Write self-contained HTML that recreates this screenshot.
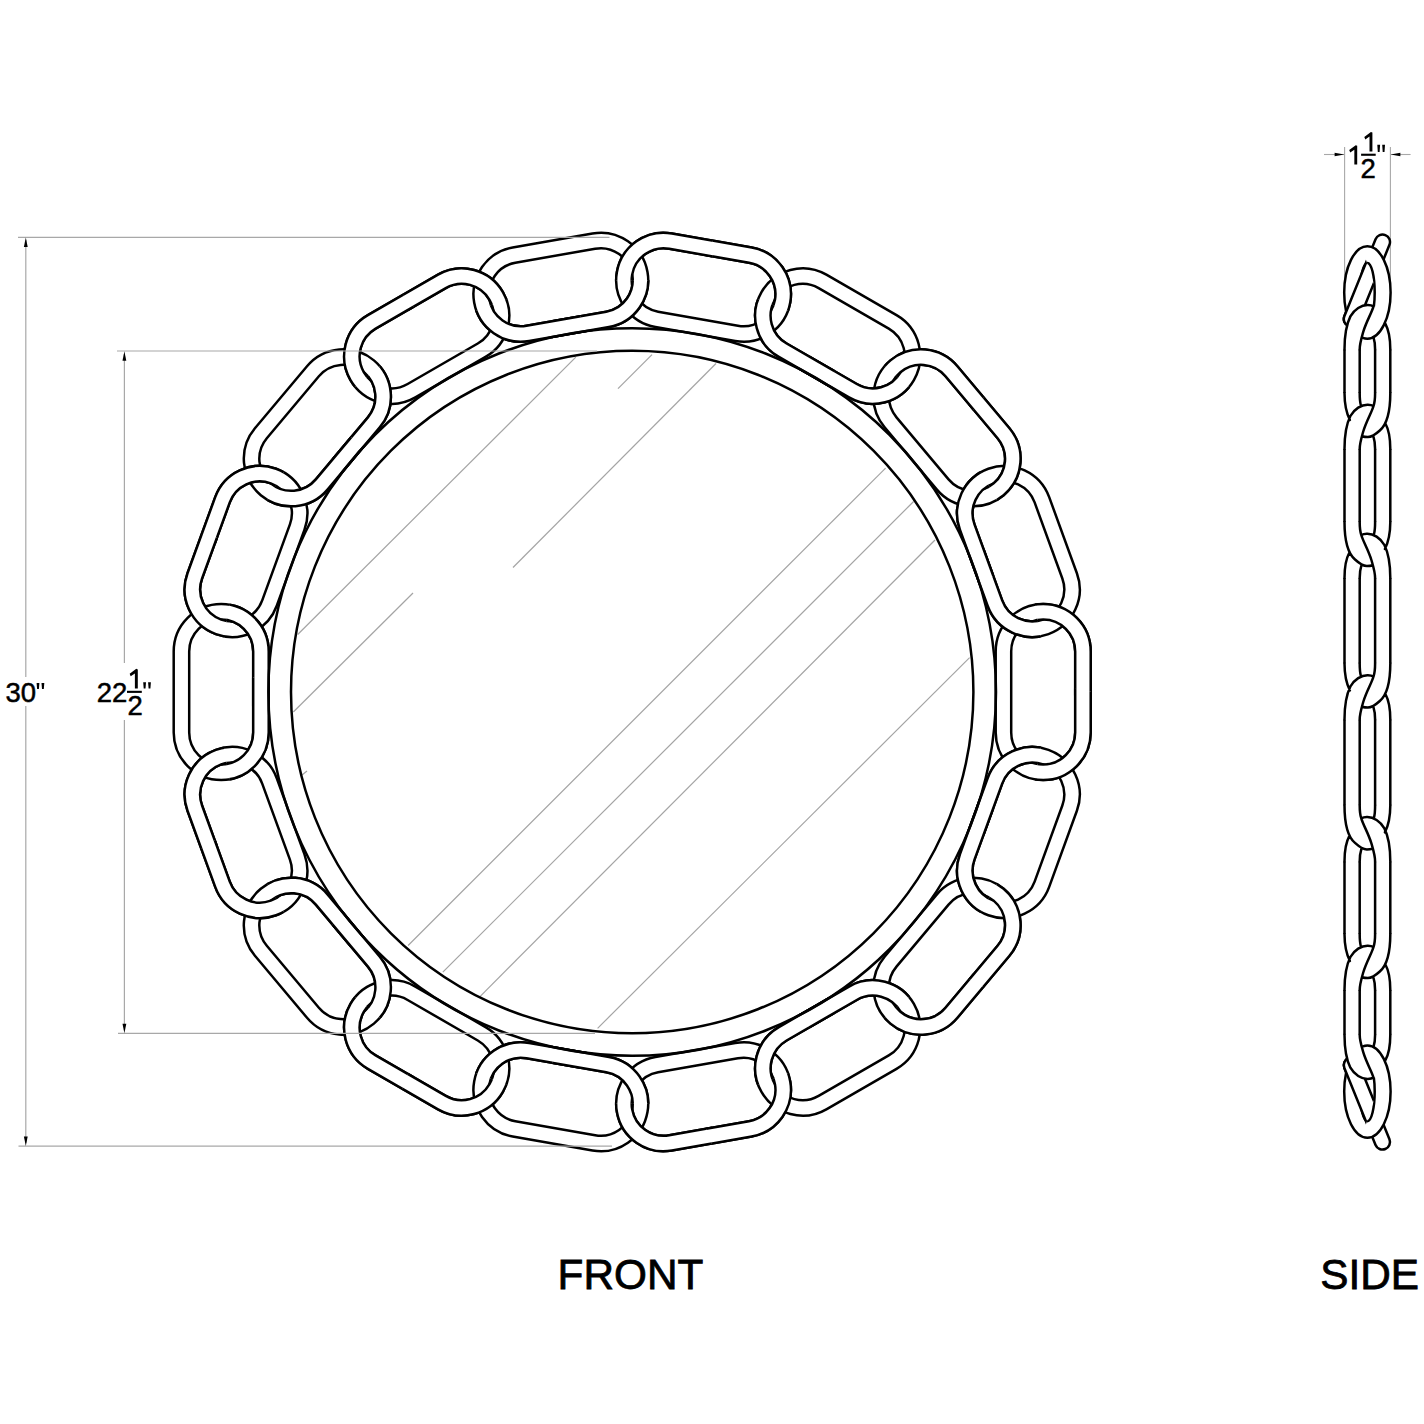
<!DOCTYPE html><html><head><meta charset="utf-8"><style>html,body{margin:0;padding:0;background:#fff;}svg{display:block;}text{font-family:"Liberation Sans",sans-serif;fill:#000;}</style></head><body>
<svg width="1424" height="1424" viewBox="0 0 1424 1424">
<rect width="1424" height="1424" fill="#fff"/>
<defs>
<path id="tube" d="M-40.50,-47.50H40.50A47.50,47.50 0 0 1 40.50,47.50H-40.50A47.50,47.50 0 0 1 -40.50,-47.50ZM-40.50,-32.00H40.50A32.00,32.00 0 0 1 40.50,32.00H-40.50A32.00,32.00 0 0 1 -40.50,-32.00Z" fill="#fff" fill-rule="evenodd" stroke="#000" stroke-width="2.5"/>
<clipPath id="o0"><rect x="0" y="-80" width="90" height="160" transform="translate(1037.74,620.49) rotate(-10)"/></clipPath>
<clipPath id="i0"><rect x="-90" y="-80" width="90" height="160" transform="translate(1037.74,620.49) rotate(-10)"/></clipPath>
<clipPath id="o1"><rect x="0" y="-80" width="90" height="160" transform="translate(988.83,486.10) rotate(-30)"/></clipPath>
<clipPath id="i1"><rect x="-90" y="-80" width="90" height="160" transform="translate(988.83,486.10) rotate(-30)"/></clipPath>
<clipPath id="o2"><rect x="0" y="-80" width="90" height="160" transform="translate(896.90,376.54) rotate(-50)"/></clipPath>
<clipPath id="i2"><rect x="-90" y="-80" width="90" height="160" transform="translate(896.90,376.54) rotate(-50)"/></clipPath>
<clipPath id="o3"><rect x="0" y="-80" width="90" height="160" transform="translate(773.04,305.03) rotate(-70)"/></clipPath>
<clipPath id="i3"><rect x="-90" y="-80" width="90" height="160" transform="translate(773.04,305.03) rotate(-70)"/></clipPath>
<clipPath id="o4"><rect x="0" y="-80" width="90" height="160" transform="translate(632.20,280.20) rotate(-90)"/></clipPath>
<clipPath id="i4"><rect x="-90" y="-80" width="90" height="160" transform="translate(632.20,280.20) rotate(-90)"/></clipPath>
<clipPath id="o5"><rect x="0" y="-80" width="90" height="160" transform="translate(491.36,305.03) rotate(-110)"/></clipPath>
<clipPath id="i5"><rect x="-90" y="-80" width="90" height="160" transform="translate(491.36,305.03) rotate(-110)"/></clipPath>
<clipPath id="o6"><rect x="0" y="-80" width="90" height="160" transform="translate(367.50,376.54) rotate(-130)"/></clipPath>
<clipPath id="i6"><rect x="-90" y="-80" width="90" height="160" transform="translate(367.50,376.54) rotate(-130)"/></clipPath>
<clipPath id="o7"><rect x="0" y="-80" width="90" height="160" transform="translate(275.57,486.10) rotate(-150)"/></clipPath>
<clipPath id="i7"><rect x="-90" y="-80" width="90" height="160" transform="translate(275.57,486.10) rotate(-150)"/></clipPath>
<clipPath id="o8"><rect x="0" y="-80" width="90" height="160" transform="translate(226.66,620.49) rotate(-170)"/></clipPath>
<clipPath id="i8"><rect x="-90" y="-80" width="90" height="160" transform="translate(226.66,620.49) rotate(-170)"/></clipPath>
<clipPath id="o9"><rect x="0" y="-80" width="90" height="160" transform="translate(226.66,763.51) rotate(-190)"/></clipPath>
<clipPath id="i9"><rect x="-90" y="-80" width="90" height="160" transform="translate(226.66,763.51) rotate(-190)"/></clipPath>
<clipPath id="o10"><rect x="0" y="-80" width="90" height="160" transform="translate(275.57,897.90) rotate(-210)"/></clipPath>
<clipPath id="i10"><rect x="-90" y="-80" width="90" height="160" transform="translate(275.57,897.90) rotate(-210)"/></clipPath>
<clipPath id="o11"><rect x="0" y="-80" width="90" height="160" transform="translate(367.50,1007.46) rotate(-230)"/></clipPath>
<clipPath id="i11"><rect x="-90" y="-80" width="90" height="160" transform="translate(367.50,1007.46) rotate(-230)"/></clipPath>
<clipPath id="o12"><rect x="0" y="-80" width="90" height="160" transform="translate(491.36,1078.97) rotate(-250)"/></clipPath>
<clipPath id="i12"><rect x="-90" y="-80" width="90" height="160" transform="translate(491.36,1078.97) rotate(-250)"/></clipPath>
<clipPath id="o13"><rect x="0" y="-80" width="90" height="160" transform="translate(632.20,1103.80) rotate(-270)"/></clipPath>
<clipPath id="i13"><rect x="-90" y="-80" width="90" height="160" transform="translate(632.20,1103.80) rotate(-270)"/></clipPath>
<clipPath id="o14"><rect x="0" y="-80" width="90" height="160" transform="translate(773.04,1078.97) rotate(-290)"/></clipPath>
<clipPath id="i14"><rect x="-90" y="-80" width="90" height="160" transform="translate(773.04,1078.97) rotate(-290)"/></clipPath>
<clipPath id="o15"><rect x="0" y="-80" width="90" height="160" transform="translate(896.90,1007.46) rotate(-310)"/></clipPath>
<clipPath id="i15"><rect x="-90" y="-80" width="90" height="160" transform="translate(896.90,1007.46) rotate(-310)"/></clipPath>
<clipPath id="o16"><rect x="0" y="-80" width="90" height="160" transform="translate(988.83,897.90) rotate(-330)"/></clipPath>
<clipPath id="i16"><rect x="-90" y="-80" width="90" height="160" transform="translate(988.83,897.90) rotate(-330)"/></clipPath>
<clipPath id="o17"><rect x="0" y="-80" width="90" height="160" transform="translate(1037.74,763.51) rotate(-350)"/></clipPath>
<clipPath id="i17"><rect x="-90" y="-80" width="90" height="160" transform="translate(1037.74,763.51) rotate(-350)"/></clipPath>
</defs>
<line x1="297.7" y1="634.5" x2="575.8" y2="357.2" stroke="#a4a4a4" stroke-width="1.2"/>
<line x1="293.3" y1="712" x2="413" y2="593" stroke="#a4a4a4" stroke-width="1.2"/>
<line x1="513" y1="567.5" x2="716" y2="363.5" stroke="#a4a4a4" stroke-width="1.2"/>
<line x1="618" y1="388.6" x2="652" y2="354.7" stroke="#a4a4a4" stroke-width="1.2"/>
<line x1="408.1" y1="945.5" x2="885.6" y2="468.1" stroke="#a4a4a4" stroke-width="1.2"/>
<line x1="442.8" y1="972.2" x2="913.6" y2="501.5" stroke="#a4a4a4" stroke-width="1.2"/>
<line x1="480.2" y1="996.3" x2="935" y2="540" stroke="#a4a4a4" stroke-width="1.2"/>
<line x1="597.6" y1="1028.3" x2="969.6" y2="657.6" stroke="#a4a4a4" stroke-width="1.2"/>
<line x1="302" y1="775" x2="307" y2="771" stroke="#a4a4a4" stroke-width="1.2"/>
<use href="#tube" transform="translate(1043.20,692.00) rotate(90)"/>
<use href="#tube" transform="translate(1018.41,551.43) rotate(70)"/>
<use href="#tube" transform="translate(947.04,427.81) rotate(50)"/>
<use href="#tube" transform="translate(837.70,336.06) rotate(30)"/>
<use href="#tube" transform="translate(703.57,287.24) rotate(10)"/>
<use href="#tube" transform="translate(560.83,287.24) rotate(-10)"/>
<use href="#tube" transform="translate(426.70,336.06) rotate(-30)"/>
<use href="#tube" transform="translate(317.36,427.81) rotate(-50)"/>
<use href="#tube" transform="translate(245.99,551.43) rotate(-70)"/>
<use href="#tube" transform="translate(221.20,692.00) rotate(-90)"/>
<use href="#tube" transform="translate(245.99,832.57) rotate(-110)"/>
<use href="#tube" transform="translate(317.36,956.19) rotate(-130)"/>
<use href="#tube" transform="translate(426.70,1047.94) rotate(-150)"/>
<use href="#tube" transform="translate(560.83,1096.76) rotate(-170)"/>
<use href="#tube" transform="translate(703.57,1096.76) rotate(-190)"/>
<use href="#tube" transform="translate(837.70,1047.94) rotate(-210)"/>
<use href="#tube" transform="translate(947.04,956.19) rotate(-230)"/>
<use href="#tube" transform="translate(1018.41,832.57) rotate(-250)"/>
<g clip-path="url(#i0)"><use href="#tube" transform="translate(1018.41,551.43) rotate(70)"/></g>
<g clip-path="url(#o0)"><use href="#tube" transform="translate(1043.20,692.00) rotate(90)"/></g>
<g clip-path="url(#i1)"><use href="#tube" transform="translate(1018.41,551.43) rotate(70)"/></g>
<g clip-path="url(#o1)"><use href="#tube" transform="translate(947.04,427.81) rotate(50)"/></g>
<g clip-path="url(#i2)"><use href="#tube" transform="translate(837.70,336.06) rotate(30)"/></g>
<g clip-path="url(#o2)"><use href="#tube" transform="translate(947.04,427.81) rotate(50)"/></g>
<g clip-path="url(#i3)"><use href="#tube" transform="translate(837.70,336.06) rotate(30)"/></g>
<g clip-path="url(#o3)"><use href="#tube" transform="translate(703.57,287.24) rotate(10)"/></g>
<g clip-path="url(#i4)"><use href="#tube" transform="translate(560.83,287.24) rotate(-10)"/></g>
<g clip-path="url(#o4)"><use href="#tube" transform="translate(703.57,287.24) rotate(10)"/></g>
<g clip-path="url(#i5)"><use href="#tube" transform="translate(560.83,287.24) rotate(-10)"/></g>
<g clip-path="url(#o5)"><use href="#tube" transform="translate(426.70,336.06) rotate(-30)"/></g>
<g clip-path="url(#i6)"><use href="#tube" transform="translate(317.36,427.81) rotate(-50)"/></g>
<g clip-path="url(#o6)"><use href="#tube" transform="translate(426.70,336.06) rotate(-30)"/></g>
<g clip-path="url(#i7)"><use href="#tube" transform="translate(317.36,427.81) rotate(-50)"/></g>
<g clip-path="url(#o7)"><use href="#tube" transform="translate(245.99,551.43) rotate(-70)"/></g>
<g clip-path="url(#i8)"><use href="#tube" transform="translate(221.20,692.00) rotate(-90)"/></g>
<g clip-path="url(#o8)"><use href="#tube" transform="translate(245.99,551.43) rotate(-70)"/></g>
<g clip-path="url(#i9)"><use href="#tube" transform="translate(221.20,692.00) rotate(-90)"/></g>
<g clip-path="url(#o9)"><use href="#tube" transform="translate(245.99,832.57) rotate(-110)"/></g>
<g clip-path="url(#i10)"><use href="#tube" transform="translate(317.36,956.19) rotate(-130)"/></g>
<g clip-path="url(#o10)"><use href="#tube" transform="translate(245.99,832.57) rotate(-110)"/></g>
<g clip-path="url(#i11)"><use href="#tube" transform="translate(317.36,956.19) rotate(-130)"/></g>
<g clip-path="url(#o11)"><use href="#tube" transform="translate(426.70,1047.94) rotate(-150)"/></g>
<g clip-path="url(#i12)"><use href="#tube" transform="translate(560.83,1096.76) rotate(-170)"/></g>
<g clip-path="url(#o12)"><use href="#tube" transform="translate(426.70,1047.94) rotate(-150)"/></g>
<g clip-path="url(#i13)"><use href="#tube" transform="translate(560.83,1096.76) rotate(-170)"/></g>
<g clip-path="url(#o13)"><use href="#tube" transform="translate(703.57,1096.76) rotate(-190)"/></g>
<g clip-path="url(#i14)"><use href="#tube" transform="translate(837.70,1047.94) rotate(-210)"/></g>
<g clip-path="url(#o14)"><use href="#tube" transform="translate(703.57,1096.76) rotate(-190)"/></g>
<g clip-path="url(#i15)"><use href="#tube" transform="translate(837.70,1047.94) rotate(-210)"/></g>
<g clip-path="url(#o15)"><use href="#tube" transform="translate(947.04,956.19) rotate(-230)"/></g>
<g clip-path="url(#i16)"><use href="#tube" transform="translate(1018.41,832.57) rotate(-250)"/></g>
<g clip-path="url(#o16)"><use href="#tube" transform="translate(947.04,956.19) rotate(-230)"/></g>
<g clip-path="url(#i17)"><use href="#tube" transform="translate(1018.41,832.57) rotate(-250)"/></g>
<g clip-path="url(#o17)"><use href="#tube" transform="translate(1043.20,692.00) rotate(90)"/></g>
<circle cx="632.2" cy="692.0" r="363.8" fill="none" stroke="#000" stroke-width="2.5"/>
<circle cx="632.2" cy="692.0" r="341.2" fill="none" stroke="#000" stroke-width="2.5"/>
<g stroke="#a8a8a8" stroke-width="1.2" fill="none">
<line x1="18" y1="237.3" x2="609.5" y2="237.3"/>
<line x1="117" y1="351" x2="597" y2="351"/>
<line x1="118" y1="1033.3" x2="595" y2="1033.3"/>
<line x1="18.5" y1="1146.2" x2="612" y2="1146.2"/>
<line x1="25.8" y1="240" x2="25.8" y2="677"/>
<line x1="25.8" y1="706" x2="25.8" y2="1143"/>
<line x1="124.4" y1="354" x2="124.4" y2="663"/>
<line x1="124.4" y1="720" x2="124.4" y2="1030"/>
</g>
<path d="M25.8,237.5 L23.900000000000002,247.0 L27.7,247.0 Z" fill="#000"/>
<path d="M25.8,1146 L23.900000000000002,1136.5 L27.7,1136.5 Z" fill="#000"/>
<path d="M124.4,351.2 L122.5,360.7 L126.30000000000001,360.7 Z" fill="#000"/>
<path d="M124.4,1033.2 L122.5,1023.7 L126.30000000000001,1023.7 Z" fill="#000"/>
<text x="5.4" y="702.3" font-size="27.5" stroke="#000" stroke-width="0.5">30</text>
<path d="M36.60,683.00h2.8l-0.5,6.00h-1.8Z M41.50,683.00h2.8l-0.5,6.00h-1.8Z" fill="#000"/>
<text x="96.8" y="702.3" font-size="27.5" stroke="#000" stroke-width="0.5">22</text>
<path d="M136.29,668.80 L137.80,669.40 L137.80,688.50 L134.89,688.50 L134.89,673.42 L130.66,676.24 L129.66,673.72Z" fill="#000"/>
<rect x="127.0" y="690.8" width="14.8" height="2.1" fill="#000"/>
<text x="127.4" y="714.8" font-size="27.5" stroke="#000" stroke-width="0.5">2</text>
<path d="M143.20,682.20h2.8l-0.5,6.40h-1.8Z M148.10,682.20h2.8l-0.5,6.40h-1.8Z" fill="#000"/>
<text x="557.6" y="1289.2" font-size="42.3" stroke="#000" stroke-width="0.8">FRONT</text>
<text x="1320.3" y="1289.4" font-size="42.3" stroke="#000" stroke-width="0.8">SIDE</text>
<g stroke="#a8a8a8" stroke-width="1.1" fill="none">
<line x1="1344.6" y1="147" x2="1344.6" y2="300"/>
<line x1="1390.4" y1="147" x2="1390.4" y2="300"/>
<line x1="1324" y1="154.5" x2="1344" y2="154.5"/>
<line x1="1391" y1="154.5" x2="1410.6" y2="154.5"/>
</g>
<path d="M1344.3,154.5 L1334.6,152.7 L1334.6,156.3 Z" fill="#000"/>
<path d="M1390.7,154.5 L1400.4,152.7 L1400.4,156.3 Z" fill="#000"/>
<path d="M1355.72,145.20 L1357.20,145.79 L1357.20,164.50 L1354.34,164.50 L1354.34,149.73 L1350.21,152.49 L1349.22,150.02Z" fill="#000"/>
<path d="M1370.90,132.00 L1372.40,132.60 L1372.40,151.60 L1369.50,151.60 L1369.50,136.60 L1365.30,139.40 L1364.30,136.90Z" fill="#000"/>
<rect x="1361.1" y="153.7" width="14.6" height="2.1" fill="#000"/>
<text x="1360.4" y="177.9" font-size="27.5" stroke="#000" stroke-width="0.5">2</text>
<path d="M1377.30,144.80h2.8l-0.5,7.10h-1.8Z M1382.20,144.80h2.8l-0.5,7.10h-1.8Z" fill="#000"/>
<defs><clipPath id="barclip"><polygon points="1319.6,120.6 1414.4,405.2 1272.1,452.6 1177.3,168.0"/></clipPath><clipPath id="inclip"><rect x="1300" y="200" width="100" height="106.5"/></clipPath></defs>
<path d="M1375.55,239.18L1344.35,316.18A7.5,7.5 0 0 0 1358.25,321.82L1389.45,244.82A7.5,7.5 0 0 0 1375.55,239.18Z" fill="#fff" stroke="#000" stroke-width="2.5"/><path d="M1344.2,292.5A23.2,46.2 0 1 0 1390.6000000000001,292.5A23.2,46.2 0 1 0 1344.2,292.5Z" fill="#fff" stroke="#000" stroke-width="2.5"/><g clip-path="url(#inclip)"><path d="M1360.1000000000001,292.5A7.3,29.6 0 1 0 1374.7,292.5A7.3,29.6 0 1 0 1360.1000000000001,292.5Z" fill="none" stroke="#000" stroke-width="2.5"/></g><g clip-path="url(#barclip)"><path d="M1375.55,239.18L1344.35,316.18A7.5,7.5 0 0 0 1358.25,321.82L1389.45,244.82A7.5,7.5 0 0 0 1375.55,239.18Z" fill="#fff" stroke="#000" stroke-width="2.5"/></g><g transform="translate(1367.4,321.4)"><path d="M-22.9,28C-22.9,14 -20.5,2 -17,-5C-13,-12 -6,-16.5 0.5,-16.3C3,-16.2 5,-15.6 6.1,-15C4.5,-9 -1,0 -4,10C-6,17 -7.7,22 -7.7,28Z" fill="#fff"/><path d="M6.1,-15C4.5,-9 -1,0 -4,10C-6,17 -7.7,22 -7.7,28M-22.9,28C-22.9,14 -20.5,2 -17,-5C-13,-12 -6,-16.5 0.5,-16.3C3,-16.2 5,-15.6 6.1,-15M7.7,28C7.7,22 6.8,18 6.1,15.9M22.9,28C22.9,16 21,8 18,2.5" fill="none" stroke="#000" stroke-width="2.5" stroke-linecap="round"/></g>
<g transform="matrix(1,0,0,-1,0,1384.1)"><path d="M1375.55,239.18L1344.35,316.18A7.5,7.5 0 0 0 1358.25,321.82L1389.45,244.82A7.5,7.5 0 0 0 1375.55,239.18Z" fill="#fff" stroke="#000" stroke-width="2.5"/><path d="M1344.2,292.5A23.2,46.2 0 1 0 1390.6000000000001,292.5A23.2,46.2 0 1 0 1344.2,292.5Z" fill="#fff" stroke="#000" stroke-width="2.5"/><g clip-path="url(#inclip)"><path d="M1360.1000000000001,292.5A7.3,29.6 0 1 0 1374.7,292.5A7.3,29.6 0 1 0 1360.1000000000001,292.5Z" fill="none" stroke="#000" stroke-width="2.5"/></g><g clip-path="url(#barclip)"><path d="M1375.55,239.18L1344.35,316.18A7.5,7.5 0 0 0 1358.25,321.82L1389.45,244.82A7.5,7.5 0 0 0 1375.55,239.18Z" fill="#fff" stroke="#000" stroke-width="2.5"/></g><g transform="translate(1367.4,321.4)"><path d="M-22.9,28C-22.9,14 -20.5,2 -17,-5C-13,-12 -6,-16.5 0.5,-16.3C3,-16.2 5,-15.6 6.1,-15C4.5,-9 -1,0 -4,10C-6,17 -7.7,22 -7.7,28Z" fill="#fff"/><path d="M6.1,-15C4.5,-9 -1,0 -4,10C-6,17 -7.7,22 -7.7,28M-22.9,28C-22.9,14 -20.5,2 -17,-5C-13,-12 -6,-16.5 0.5,-16.3C3,-16.2 5,-15.6 6.1,-15M7.7,28C7.7,22 6.8,18 6.1,15.9M22.9,28C22.9,16 21,8 18,2.5" fill="none" stroke="#000" stroke-width="2.5" stroke-linecap="round"/></g></g>
<path d="M1344.5,349.4V393M1359.7,349.4V393M1375.1,349.4V393M1390.3,349.4V393M1344.5,449V522M1359.7,449V522M1375.1,449V522M1390.3,449V522M1344.5,578V663.5M1359.7,578V663.5M1375.1,578V663.5M1390.3,578V663.5M1344.5,719.5V805.4M1359.7,719.5V805.4M1375.1,719.5V805.4M1390.3,719.5V805.4M1344.5,861.4V934M1359.7,861.4V934M1375.1,861.4V934M1390.3,861.4V934M1344.5,990V1034.7M1359.7,990V1034.7M1375.1,990V1034.7M1390.3,990V1034.7" fill="none" stroke="#000" stroke-width="2.5"/>
<g transform="translate(1367.4,421) scale(1,1)"><path d="M22.9,-28C22.9,-10 20,3 12.4,9.5C8,13.5 4,16 0.5,16C-2,16 -4,15.6 -5.5,15.2L-4.6,12C-1,0 4.5,-9 6.1,-15C6.8,-17 7.7,-21 7.7,-28Z" fill="#fff"/><path d="M-22.9,28C-22.9,14 -20.5,2 -17,-5C-13,-12 -6,-16.5 0.5,-16.3C3,-16.2 5,-15.6 6.1,-15C4.5,-9 -1,0 -4,10C-6,17 -7.7,22 -7.7,28Z" fill="#fff"/><path d="M-22.9,-28C-22.9,-16 -21,-8 -17.5,-1M-7.7,-28C-7.7,-22 -7.2,-18 -6.5,-15.5M7.7,-28C7.7,-21 6.8,-17 6.1,-15C4.5,-9 -1,0 -4,10C-6,17 -7.7,22 -7.7,28M22.9,-28C22.9,-10 20,3 12.4,9.5C8,13.5 4,16 0.5,16C-2,16 -4,15.6 -5.5,15.2M-22.9,28C-22.9,14 -20.5,2 -17,-5C-13,-12 -6,-16.5 0.5,-16.3C3,-16.2 5,-15.6 6.1,-15M7.7,28C7.7,22 6.8,18 6.1,15.9M22.9,28C22.9,16 21,8 18,2.5" fill="none" stroke="#000" stroke-width="2.5" stroke-linecap="round"/></g>
<g transform="translate(1367.4,550) scale(-1,1)"><path d="M22.9,-28C22.9,-10 20,3 12.4,9.5C8,13.5 4,16 0.5,16C-2,16 -4,15.6 -5.5,15.2L-4.6,12C-1,0 4.5,-9 6.1,-15C6.8,-17 7.7,-21 7.7,-28Z" fill="#fff"/><path d="M-22.9,28C-22.9,14 -20.5,2 -17,-5C-13,-12 -6,-16.5 0.5,-16.3C3,-16.2 5,-15.6 6.1,-15C4.5,-9 -1,0 -4,10C-6,17 -7.7,22 -7.7,28Z" fill="#fff"/><path d="M-22.9,-28C-22.9,-16 -21,-8 -17.5,-1M-7.7,-28C-7.7,-22 -7.2,-18 -6.5,-15.5M7.7,-28C7.7,-21 6.8,-17 6.1,-15C4.5,-9 -1,0 -4,10C-6,17 -7.7,22 -7.7,28M22.9,-28C22.9,-10 20,3 12.4,9.5C8,13.5 4,16 0.5,16C-2,16 -4,15.6 -5.5,15.2M-22.9,28C-22.9,14 -20.5,2 -17,-5C-13,-12 -6,-16.5 0.5,-16.3C3,-16.2 5,-15.6 6.1,-15M7.7,28C7.7,22 6.8,18 6.1,15.9M22.9,28C22.9,16 21,8 18,2.5" fill="none" stroke="#000" stroke-width="2.5" stroke-linecap="round"/></g>
<g transform="translate(1367.4,691.5) scale(1,1)"><path d="M22.9,-28C22.9,-10 20,3 12.4,9.5C8,13.5 4,16 0.5,16C-2,16 -4,15.6 -5.5,15.2L-4.6,12C-1,0 4.5,-9 6.1,-15C6.8,-17 7.7,-21 7.7,-28Z" fill="#fff"/><path d="M-22.9,28C-22.9,14 -20.5,2 -17,-5C-13,-12 -6,-16.5 0.5,-16.3C3,-16.2 5,-15.6 6.1,-15C4.5,-9 -1,0 -4,10C-6,17 -7.7,22 -7.7,28Z" fill="#fff"/><path d="M-22.9,-28C-22.9,-16 -21,-8 -17.5,-1M-7.7,-28C-7.7,-22 -7.2,-18 -6.5,-15.5M7.7,-28C7.7,-21 6.8,-17 6.1,-15C4.5,-9 -1,0 -4,10C-6,17 -7.7,22 -7.7,28M22.9,-28C22.9,-10 20,3 12.4,9.5C8,13.5 4,16 0.5,16C-2,16 -4,15.6 -5.5,15.2M-22.9,28C-22.9,14 -20.5,2 -17,-5C-13,-12 -6,-16.5 0.5,-16.3C3,-16.2 5,-15.6 6.1,-15M7.7,28C7.7,22 6.8,18 6.1,15.9M22.9,28C22.9,16 21,8 18,2.5" fill="none" stroke="#000" stroke-width="2.5" stroke-linecap="round"/></g>
<g transform="translate(1367.4,833.4) scale(-1,1)"><path d="M22.9,-28C22.9,-10 20,3 12.4,9.5C8,13.5 4,16 0.5,16C-2,16 -4,15.6 -5.5,15.2L-4.6,12C-1,0 4.5,-9 6.1,-15C6.8,-17 7.7,-21 7.7,-28Z" fill="#fff"/><path d="M-22.9,28C-22.9,14 -20.5,2 -17,-5C-13,-12 -6,-16.5 0.5,-16.3C3,-16.2 5,-15.6 6.1,-15C4.5,-9 -1,0 -4,10C-6,17 -7.7,22 -7.7,28Z" fill="#fff"/><path d="M-22.9,-28C-22.9,-16 -21,-8 -17.5,-1M-7.7,-28C-7.7,-22 -7.2,-18 -6.5,-15.5M7.7,-28C7.7,-21 6.8,-17 6.1,-15C4.5,-9 -1,0 -4,10C-6,17 -7.7,22 -7.7,28M22.9,-28C22.9,-10 20,3 12.4,9.5C8,13.5 4,16 0.5,16C-2,16 -4,15.6 -5.5,15.2M-22.9,28C-22.9,14 -20.5,2 -17,-5C-13,-12 -6,-16.5 0.5,-16.3C3,-16.2 5,-15.6 6.1,-15M7.7,28C7.7,22 6.8,18 6.1,15.9M22.9,28C22.9,16 21,8 18,2.5" fill="none" stroke="#000" stroke-width="2.5" stroke-linecap="round"/></g>
<g transform="translate(1367.4,962) scale(1,1)"><path d="M22.9,-28C22.9,-10 20,3 12.4,9.5C8,13.5 4,16 0.5,16C-2,16 -4,15.6 -5.5,15.2L-4.6,12C-1,0 4.5,-9 6.1,-15C6.8,-17 7.7,-21 7.7,-28Z" fill="#fff"/><path d="M-22.9,28C-22.9,14 -20.5,2 -17,-5C-13,-12 -6,-16.5 0.5,-16.3C3,-16.2 5,-15.6 6.1,-15C4.5,-9 -1,0 -4,10C-6,17 -7.7,22 -7.7,28Z" fill="#fff"/><path d="M-22.9,-28C-22.9,-16 -21,-8 -17.5,-1M-7.7,-28C-7.7,-22 -7.2,-18 -6.5,-15.5M7.7,-28C7.7,-21 6.8,-17 6.1,-15C4.5,-9 -1,0 -4,10C-6,17 -7.7,22 -7.7,28M22.9,-28C22.9,-10 20,3 12.4,9.5C8,13.5 4,16 0.5,16C-2,16 -4,15.6 -5.5,15.2M-22.9,28C-22.9,14 -20.5,2 -17,-5C-13,-12 -6,-16.5 0.5,-16.3C3,-16.2 5,-15.6 6.1,-15M7.7,28C7.7,22 6.8,18 6.1,15.9M22.9,28C22.9,16 21,8 18,2.5" fill="none" stroke="#000" stroke-width="2.5" stroke-linecap="round"/></g>
</svg></body></html>
